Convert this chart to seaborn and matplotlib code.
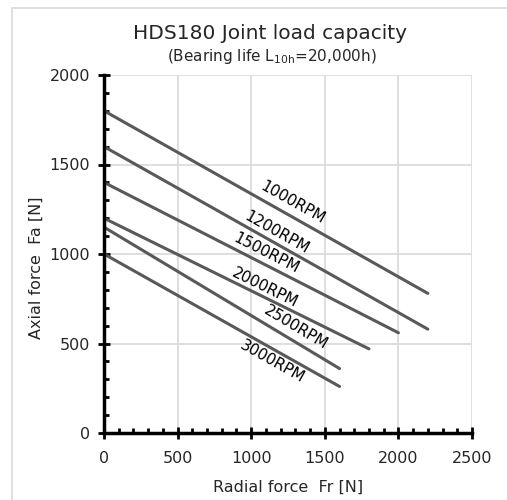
import numpy as np
import pandas as pd
import seaborn as sns
import matplotlib.pyplot as plt
from matplotlib.patches import Rectangle
from matplotlib.ticker import MultipleLocator

# Load capacity lines (Fr -> Fa)
speeds = ["1000RPM", "1200RPM", "1500RPM", "2000RPM", "2500RPM", "3000RPM"]
fr_end = [2200, 2200, 2000, 1800, 1600, 1600]
fa_start = [1800, 1600, 1400, 1200, 1150, 1000]
fa_end = [780, 580, 560, 470, 360, 260]

# label anchor points along each line (x, y in data units)
label_x = [1285, 1175, 1105, 1095, 1300, 1140]
label_y = [1285, 1117, 1006, 810, 587, 397]

rows = []
for s, xe, y0, y1 in zip(speeds, fr_end, fa_start, fa_end):
    rows.append({"speed": s, "Fr": 0, "Fa": y0})
    rows.append({"speed": s, "Fr": xe, "Fa": y1})
df = pd.DataFrame(rows)

sns.set_style("white")
plt.rcParams["font.family"] = ["DejaVu Sans"]
plt.rcParams["mathtext.default"] = "regular"

fig = plt.figure(figsize=(5.07, 5.0), dpi=100)
ax = fig.add_axes([104 / 507, 1 - 433 / 500, 368 / 507, 358 / 500])

line_col = "#595959"
sns.lineplot(data=df, x="Fr", y="Fa", hue="speed", palette=[line_col] * len(speeds),
             linewidth=2.2, legend=False, ax=ax)

ax.set_xlim(0, 2500)
ax.set_ylim(0, 2000)
ax.xaxis.set_major_locator(MultipleLocator(500))
ax.yaxis.set_major_locator(MultipleLocator(500))
ax.xaxis.set_minor_locator(MultipleLocator(100))
ax.yaxis.set_minor_locator(MultipleLocator(100))
ax.grid(True, which="major", color="#d9d9d9", linewidth=1.2)
ax.set_axisbelow(True)

for side in ["top", "right"]:
    ax.spines[side].set_visible(False)
for side in ["left", "bottom"]:
    ax.spines[side].set_color("black")
    ax.spines[side].set_linewidth(2.5)
    ax.spines[side].set_zorder(5)

ax.tick_params(which="both", bottom=True, left=True, top=False, right=False)
ax.tick_params(which="major", direction="inout", length=8, width=2, color="black",
               labelsize=11.5, pad=6)
ax.tick_params(axis="x", which="major", pad=9)
ax.tick_params(which="minor", direction="in", length=3.5, width=2, color="black")

ax.set_xlabel("Radial force  Fr [N]", fontsize=11.5)
ax.set_ylabel("Axial force  Fa [N]", fontsize=11.5)
ax.xaxis.set_label_coords(0.5, -(487 - 433) / 358)
ax.yaxis.set_label_coords((36 - 104) / 368, (433 - 268) / 358)
ax.xaxis.label.set_va("center")
ax.yaxis.label.set_va("center")

# rotated labels, angle from the line slope in screen space
fig.canvas.draw()
for s, xe, y0, y1, lx, ly in zip(speeds, fr_end, fa_start, fa_end, label_x, label_y):
    p0 = ax.transData.transform((0, y0))
    p1 = ax.transData.transform((xe, y1))
    ang = np.degrees(np.arctan2(p1[1] - p0[1], p1[0] - p0[0]))
    ax.text(lx, ly, s, rotation=ang, rotation_mode="anchor", ha="center", va="center",
            fontsize=11, color="black")

fig.text(270 / 507, 1 - 33 / 500, "HDS180 Joint load capacity", ha="center", va="center",
         fontsize=14.5)
fig.text(272 / 507, 1 - 57 / 500, "(Bearing life L$_{10h}$=20,000h)", ha="center",
         va="center", fontsize=11)

fig.patches.append(Rectangle((12 / 507, -0.1), 1.2, 1 - 8 / 500 + 0.1,
                             transform=fig.transFigure, fill=False,
                             edgecolor="#d9d9d9", linewidth=1.2))

fig.savefig("out.png", dpi=100)
